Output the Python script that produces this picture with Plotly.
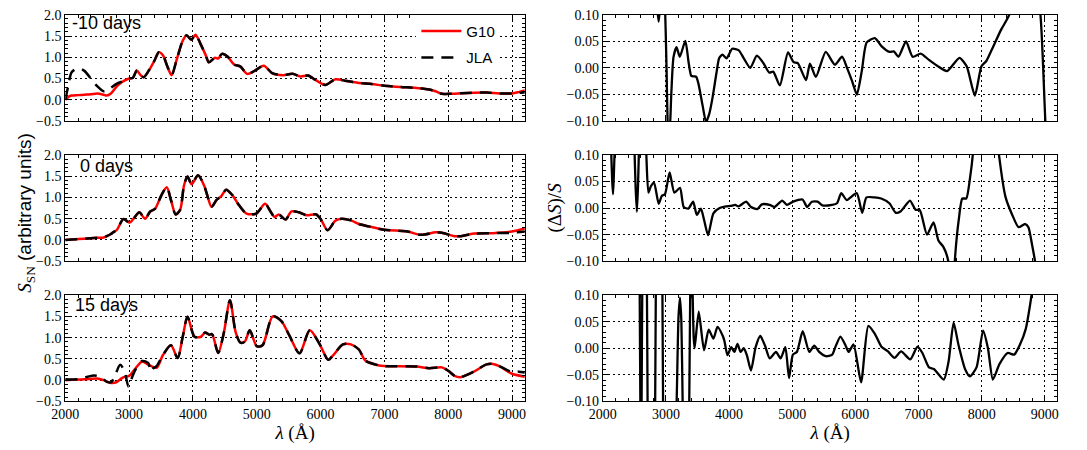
import plotly.graph_objects as go

# ---------------- data: spectra (left column) ----------------
wl_m10 = [2000, 2050, 2100, 2200, 2300, 2400, 2500, 2600, 2650, 2710,
          2810, 2890, 3000, 3060, 3120, 3180, 3230, 3330, 3400, 3465,
          3530, 3600, 3665, 3750, 3840, 3900, 3975, 4040, 4120, 4200,
          4250, 4345, 4395, 4455, 4545, 4645, 4745, 4850, 4965, 5110,
          5240, 5410, 5560, 5680, 5805, 5905, 6075, 6230, 6380, 6580,
          6800, 7000, 7250, 7500, 7700, 7800, 7900, 8000, 8300, 8600,
          8800, 9000, 9100, 9200]
g10_m10 = [0.0, 0.07, 0.1, 0.11, 0.12, 0.13, 0.15, 0.12, 0.1, 0.14,
           0.32, 0.42, 0.5, 0.52, 0.69, 0.58, 0.53, 0.74, 0.93, 1.12,
           1.05, 0.78, 0.58, 0.97, 1.39, 1.52, 1.41, 1.53, 1.31, 1.05,
           0.88, 0.99, 0.97, 1.08, 1.01, 0.83, 0.78, 0.61, 0.68, 0.8,
           0.63, 0.58, 0.61, 0.55, 0.57, 0.48, 0.35, 0.48, 0.45, 0.4,
           0.37, 0.33, 0.3, 0.28, 0.24, 0.2, 0.14, 0.14, 0.16, 0.17,
           0.15, 0.15, 0.18, 0.22]
jla_m10 = [0.0, 0.35, 0.65, 0.74, 0.68, 0.5, 0.32, 0.2, 0.22, 0.28,
           0.38, 0.43, 0.5, 0.52, 0.69, 0.58, 0.53, 0.74, 0.93, 1.12,
           1.05, 0.78, 0.58, 0.97, 1.39, 1.52, 1.41, 1.53, 1.31, 1.05,
           0.88, 0.99, 0.97, 1.08, 1.01, 0.83, 0.78, 0.61, 0.68, 0.8,
           0.63, 0.58, 0.61, 0.55, 0.57, 0.48, 0.35, 0.48, 0.45, 0.4,
           0.37, 0.33, 0.3, 0.28, 0.24, 0.2, 0.14, 0.14, 0.16, 0.17,
           0.15, 0.15, 0.16, 0.18]

wl_0 = [2000, 2100, 2300, 2500, 2600, 2650, 2715, 2750, 2810, 2910,
        3010, 3070, 3160, 3250, 3330, 3405, 3505, 3590, 3655, 3730,
        3800, 3860, 3915, 3980, 4080, 4175, 4225, 4290, 4370, 4445,
        4520, 4620, 4720, 4840, 4990, 5130, 5215, 5280, 5345, 5450,
        5545, 5660, 5780, 5930, 6005, 6110, 6230, 6330, 6475, 6590,
        6750, 7000, 7360, 7570, 7800, 7900, 8100, 8200, 8400, 8700,
        9000, 9200]
g10_0 = [0.0, 0.01, 0.03, 0.05, 0.06, 0.09, 0.14, 0.18, 0.24, 0.49,
         0.41, 0.5, 0.65, 0.5, 0.67, 0.73, 1.05, 1.24, 0.94, 0.6,
         0.71, 1.28, 1.49, 1.31, 1.52, 1.28, 1.05, 0.78, 0.94, 1.03,
         1.18, 1.05, 0.82, 0.62, 0.62, 0.85, 0.67, 0.54, 0.6, 0.48,
         0.67, 0.65, 0.58, 0.6, 0.48, 0.23, 0.45, 0.5, 0.46, 0.38,
         0.32, 0.24, 0.2, 0.12, 0.18, 0.17, 0.09, 0.09, 0.15, 0.16,
         0.2, 0.27]
jla_0 = [0.0, 0.01, 0.03, 0.05, 0.06, 0.09, 0.14, 0.18, 0.24, 0.49,
         0.41, 0.5, 0.65, 0.5, 0.67, 0.73, 1.05, 1.24, 0.94, 0.6,
         0.71, 1.28, 1.49, 1.31, 1.52, 1.28, 1.05, 0.78, 0.94, 1.03,
         1.18, 1.05, 0.82, 0.62, 0.62, 0.85, 0.67, 0.54, 0.6, 0.48,
         0.67, 0.65, 0.58, 0.6, 0.48, 0.23, 0.45, 0.5, 0.46, 0.38,
         0.32, 0.24, 0.2, 0.12, 0.18, 0.17, 0.09, 0.09, 0.15, 0.16,
         0.17, 0.2]

wl_15 = [2000, 2300, 2500, 2600, 2700, 2800, 2900, 3000, 3085, 3205,
         3305, 3430, 3530, 3655, 3760, 3840, 3915, 4025, 4125, 4190,
         4250, 4300, 4395, 4485, 4580, 4670, 4745, 4815, 4890, 5000,
         5090, 5250, 5385, 5510, 5670, 5830, 5980, 6120, 6200, 6350,
         6475, 6600, 6700, 6900, 7000, 7500, 7700, 7900, 8000, 8100,
         8190, 8400, 8600, 8700, 8800, 9000, 9200]
g10_15 = [0.0, 0.02, 0.04, 0.0, -0.06, -0.05, 0.06, 0.1, 0.25, 0.44,
          0.36, 0.29, 0.59, 0.82, 0.52, 1.02, 1.49, 1.02, 1.02, 1.12,
          1.07, 1.08, 0.64, 1.12, 1.88, 1.12, 0.88, 0.91, 1.17, 0.8,
          0.82, 1.5, 1.39, 1.05, 0.63, 1.17, 0.86, 0.48, 0.59, 0.84,
          0.84, 0.72, 0.46, 0.35, 0.33, 0.32, 0.28, 0.3, 0.22, 0.1,
          0.07, 0.2, 0.37, 0.38, 0.33, 0.15, 0.08]
wl_15_jla = [2000, 2200, 2350, 2450, 2550, 2650, 2720, 2790, 2860, 2930,
             2990, 3050, 3100, 3205, 3300, 3340, 3380, 3430, 3530, 3655,
             3760, 3840, 3915, 4025, 4125, 4190, 4250, 4300, 4395, 4485,
             4580, 4670, 4745, 4815, 4890, 5000, 5090, 5250, 5385, 5510,
             5670, 5830, 5980, 6120, 6200, 6350, 6475, 6600, 6700, 6900,
             7000, 7500, 7700, 7900, 8000, 8100, 8190, 8400, 8600, 8700,
             8800, 9000, 9100, 9200]
jla_15 = [0.02, 0.02, 0.08, 0.11, 0.08, -0.04, -0.05, 0.15, 0.36, 0.2,
          -0.15, 0.08, 0.25, 0.45, 0.4, 0.2, 0.28, 0.33, 0.59, 0.82,
          0.52, 1.02, 1.49, 1.02, 1.02, 1.12, 1.07, 1.08, 0.64, 1.12,
          1.88, 1.12, 0.88, 0.91, 1.17, 0.8, 0.82, 1.5, 1.39, 1.05,
          0.63, 1.17, 0.86, 0.48, 0.59, 0.84, 0.84, 0.72, 0.46, 0.35,
          0.33, 0.32, 0.28, 0.3, 0.22, 0.1, 0.07, 0.2, 0.37, 0.38,
          0.33, 0.19, 0.2, 0.18]

# ---------------- data: relative differences (right column) ----------------
rwl_m10 = [2000, 2400, 2700, 2820, 2865, 2885, 2905, 2950, 2985, 3010,
           3035, 3055, 3085, 3120, 3168, 3220, 3308, 3360, 3402, 3450,
           3480, 3516, 3580, 3636, 3690, 3740, 3800, 3843, 3895, 3963,
           4050, 4155, 4233, 4336, 4440, 4544, 4637, 4700, 4804, 4934,
           5022, 5089, 5219, 5281, 5375, 5531, 5676, 5790, 5868, 5946,
           6024, 6102, 6180, 6310, 6413, 6543, 6610, 6683, 6803, 6907,
           7036, 7166, 7296, 7452, 7649, 7763, 7893, 7997, 8075, 8179,
           8309, 8438, 8600, 8800, 8931, 9009, 9100, 9200]
res_m10 = [0.4, 0.5, 0.4, 0.2, 0.11, 0.087, 0.11, 0.2, 0.12, 0.0,
           -0.12, -0.13, -0.05, 0.02, 0.039, 0.021, 0.051, 0.01, -0.015, -0.016,
           -0.017, -0.03, -0.07, -0.102, -0.085, -0.055, -0.01, 0.018, 0.025, 0.018,
           0.036, 0.033, 0.018, 0.0, 0.023, 0.009, -0.009, -0.007, -0.033, 0.029,
           0.011, 0.009, -0.023, 0.008, -0.017, 0.03, 0.006, 0.021, 0.0, -0.024,
           -0.05, -0.006, 0.048, 0.056, 0.041, 0.03, 0.031, 0.021, 0.05, 0.021,
           0.027, 0.015, 0.004, -0.006, 0.019, 0.003, -0.052, 0.003, 0.013, 0.039,
           0.072, 0.1, 0.2, 0.2, 0.1, -0.1, -0.3, -0.4]

rwl_0 = [2000, 2100, 2130, 2150, 2163, 2175, 2200, 2300, 2450, 2500,
         2520, 2540, 2558, 2575, 2620, 2670, 2690, 2723, 2762, 2812,
         2886, 2936, 2985, 3059, 3134, 3223, 3282, 3356, 3431, 3490,
         3554, 3604, 3668, 3752, 3851, 3950, 4025, 4099, 4149, 4272,
         4347, 4446, 4520, 4644, 4718, 4842, 4916, 5015, 5163, 5238,
         5311, 5404, 5477, 5632, 5710, 5777, 5865, 6021, 6109, 6176,
         6306, 6409, 6539, 6642, 6720, 6865, 6953, 7021, 7135, 7238,
         7316, 7394, 7472, 7500, 7540, 7575, 7640, 7694, 7756, 7820,
         7860, 7950, 8150, 8275, 8378, 8482, 8585, 8689, 8741, 8800,
         8845, 8950, 9200]
res_0 = [0.5, 0.3, 0.12, 0.05, 0.026, 0.06, 0.15, 0.4, 0.3, 0.12,
         0.04, -0.007, 0.04, 0.12, 0.3, 0.15, 0.1, 0.029, 0.041, 0.048,
         0.008, 0.023, 0.026, 0.067, 0.029, 0.038, 0.002, -0.001, 0.012, -0.013,
         -0.001, -0.022, -0.051, -0.01, 0.0, 0.003, 0.004, 0.006, 0.003, 0.012,
         0.002, -0.002, 0.007, 0.006, 0.002, 0.014, 0.006, 0.012, 0.016, 0.002,
         0.012, 0.012, 0.005, 0.006, 0.009, 0.028, 0.015, 0.028, -0.009, 0.02,
         0.02, 0.018, 0.009, -0.009, -0.006, 0.014, -0.003, -0.004, -0.05, -0.027,
         -0.061, -0.073, -0.1, -0.2, -0.2, -0.1, -0.02, 0.018, 0.018, 0.06,
         0.1, 0.25, 0.25, 0.1, 0.021, -0.012, -0.036, -0.03, -0.036, -0.07,
         -0.1, -0.25, -0.4]

rwl_15 = [2000, 2570, 2585, 2595, 2605, 2615, 2625, 2640, 2690, 2700,
          2710, 2720, 2820, 2830, 2840, 2850, 2935, 2945, 2955, 2965,
          3120, 3170, 3200, 3223, 3245, 3265, 3300, 3350, 3370, 3385,
          3400, 3420, 3440, 3455, 3520, 3604, 3678, 3752, 3817, 3901,
          3926, 3975, 4035, 4084, 4134, 4183, 4233, 4282, 4347, 4421,
          4495, 4569, 4644, 4743, 4817, 4891, 4950, 5011, 5074, 5167,
          5271, 5349, 5427, 5531, 5634, 5686, 5764, 5842, 5894, 5972,
          6091, 6206, 6309, 6413, 6517, 6621, 6725, 6870, 6984, 7062,
          7166, 7244, 7400, 7478, 7556, 7634, 7737, 7815, 7919, 8023,
          8100, 8178, 8282, 8412, 8516, 8604, 8698, 8791, 8900, 9200]
res_15 = [0.4, 0.3, 0.1, -0.1, -0.3, -0.1, 0.1, 0.3, 0.3, 0.1,
          -0.1, -0.3, -0.3, -0.1, 0.1, 0.3, 0.3, 0.1, -0.1, -0.3,
          -0.3, -0.1, 0.06, 0.095, 0.05, -0.1, -0.3, -0.3, -0.1, 0.1,
          0.2, 0.12, 0.02, 0.0, 0.069, -0.004, 0.035, 0.018, 0.04, 0.023,
          0.014, -0.013, 0.002, -0.007, 0.008, -0.007, 0.0, -0.013, -0.042, 0.002,
          0.023, 0.005, -0.019, -0.007, -0.019, 0.002, -0.056, -0.012, -0.007, 0.032,
          -0.007, 0.005, -0.007, -0.015, -0.012, 0.003, 0.022, 0.006, -0.007, 0.007,
          -0.064, 0.042, 0.027, 0.003, -0.006, -0.018, -0.006, -0.021, 0.003, -0.009,
          -0.036, -0.039, -0.059, -0.024, 0.048, 0.006, -0.039, -0.053, -0.036, 0.033,
          0.0, -0.059, -0.03, -0.009, -0.012, 0.006, 0.036, 0.1, 0.2, 0.4]

epoch_labels = ["-10 days", "0 days", "15 days"]
spectra = [(wl_m10, g10_m10, wl_m10, jla_m10),
           (wl_0, g10_0, wl_0, jla_0),
           (wl_15, g10_15, wl_15_jla, jla_15)]
residuals = [(rwl_m10, res_m10), (rwl_0, res_0), (rwl_15, res_15)]

# ---------------- figure ----------------
W, H = 1087, 450
fig = go.Figure()

left_dom = [52 / W, 518 / W]
right_dom = [597 / W, 1058 / W]
rows_px = [(8, 118), (153, 263), (298, 408)]
row_dom = [[1 - b / H, 1 - t / H] for t, b in rows_px]

SERIF = "Liberation Serif, Times New Roman, serif"
SANS = "Liberation Sans, Arial, sans-serif"


def ax_name(i):
    return "" if i == 1 else str(i)


for r in range(3):
    il = r * 2 + 1
    ir = r * 2 + 2
    wl_g, g, wl_j, j = spectra[r]
    fig.add_trace(go.Scatter(
        x=wl_g, y=g, mode="lines", name="G10", legendgroup="g10",
        showlegend=(r == 0),
        line=dict(color="#ff0000", width=2.5, shape="spline", smoothing=0.8),
        xaxis="x" + ax_name(il), yaxis="y" + ax_name(il)))
    fig.add_trace(go.Scatter(
        x=wl_j, y=j, mode="lines", name="JLA", legendgroup="jla",
        showlegend=(r == 0),
        line=dict(color="black", width=2.5, dash="12px,8px",
                  shape="spline", smoothing=0.8),
        xaxis="x" + ax_name(il), yaxis="y" + ax_name(il)))
    rw, rv = residuals[r]
    fig.add_trace(go.Scatter(
        x=rw, y=rv, mode="lines", showlegend=False,
        line=dict(color="black", width=2.3, shape="spline", smoothing=0.6),
        xaxis="x" + ax_name(ir), yaxis="y" + ax_name(ir)))

tickfont = dict(family=SERIF, size=14, color="black")
layout = {}
for r in range(3):
    for c in range(2):
        i = r * 2 + c + 1
        xa = dict(
            domain=left_dom if c == 0 else right_dom,
            anchor="y" + ax_name(i),
            range=[2000, 9200], tick0=2000, dtick=1000,
            ticks="inside", ticklen=6, tickwidth=1, tickcolor="black",
            showline=True, linecolor="black", linewidth=1, mirror="allticks",
            showgrid=True, gridcolor="black", gridwidth=1, griddash="2px,3px",
            zeroline=False, showticklabels=(r == 2), tickfont=tickfont,
            minor=dict(dtick=200, ticks="inside", ticklen=3, tickcolor="black",
                       showgrid=False),
        )
        if r == 2:
            xa["title"] = dict(text="<i>λ</i> (Å)",
                               font=dict(family=SERIF, size=19, color="black"),
                               standoff=4)
        if c == 0:
            ya = dict(range=[-0.5, 2.0], tick0=0, dtick=0.5, tickformat=".1f",
                      minor=dict(dtick=0.1, ticks="inside", ticklen=3,
                                 tickcolor="black", showgrid=False))
        else:
            ya = dict(range=[-0.1, 0.1], tick0=0, dtick=0.05, tickformat=".2f",
                      minor=dict(dtick=0.01, ticks="inside", ticklen=3,
                                 tickcolor="black", showgrid=False))
        ya.update(
            domain=row_dom[r], anchor="x" + ax_name(i),
            ticks="inside", ticklen=6, tickwidth=1, tickcolor="black",
            showline=True, linecolor="black", linewidth=1, mirror="allticks",
            showgrid=True, gridcolor="black", gridwidth=1, griddash="2px,3px",
            zeroline=False, tickfont=tickfont,
        )
        layout["xaxis" + ax_name(i)] = xa
        layout["yaxis" + ax_name(i)] = ya

annotations = []
label_pos = [(57, 17), (65, 164), (60, 308)]
for r in range(3):
    x0, y0 = label_pos[r]
    annotations.append(dict(
        text=epoch_labels[r], x=x0 / W, y=1 - y0 / H, xref="paper", yref="paper",
        xanchor="left", yanchor="middle", showarrow=False,
        font=dict(family=SANS, size=18, color="black")))
annotations.append(dict(
    text='<span style="font-family:Liberation Serif"><i>S</i><sub>SN</sub></span> (arbitrary units)',
    x=12 / W, y=1 - 213 / H, xref="paper", yref="paper", textangle=-90,
    xanchor="center", yanchor="middle", showarrow=False,
    font=dict(family=SANS, size=19, color="black")))
annotations.append(dict(
    text="(Δ<i>S</i>)/<i>S</i>",
    x=549 / W, y=1 - 207 / H, xref="paper", yref="paper", textangle=-90,
    xanchor="center", yanchor="middle", showarrow=False,
    font=dict(family=SERIF, size=19, color="black")))

fig.update_layout(
    width=W, height=H,
    margin=dict(l=0, r=0, t=0, b=0),
    paper_bgcolor="white", plot_bgcolor="white",
    showlegend=True,
    legend=dict(x=408 / W, y=1 - 8 / H, xanchor="left", yanchor="top",
                bgcolor="white", borderwidth=0,
                font=dict(family=SANS, size=15, color="black"),
                tracegroupgap=4, itemwidth=40),
    annotations=annotations,
    **layout,
)

fig.write_html("out.html")
